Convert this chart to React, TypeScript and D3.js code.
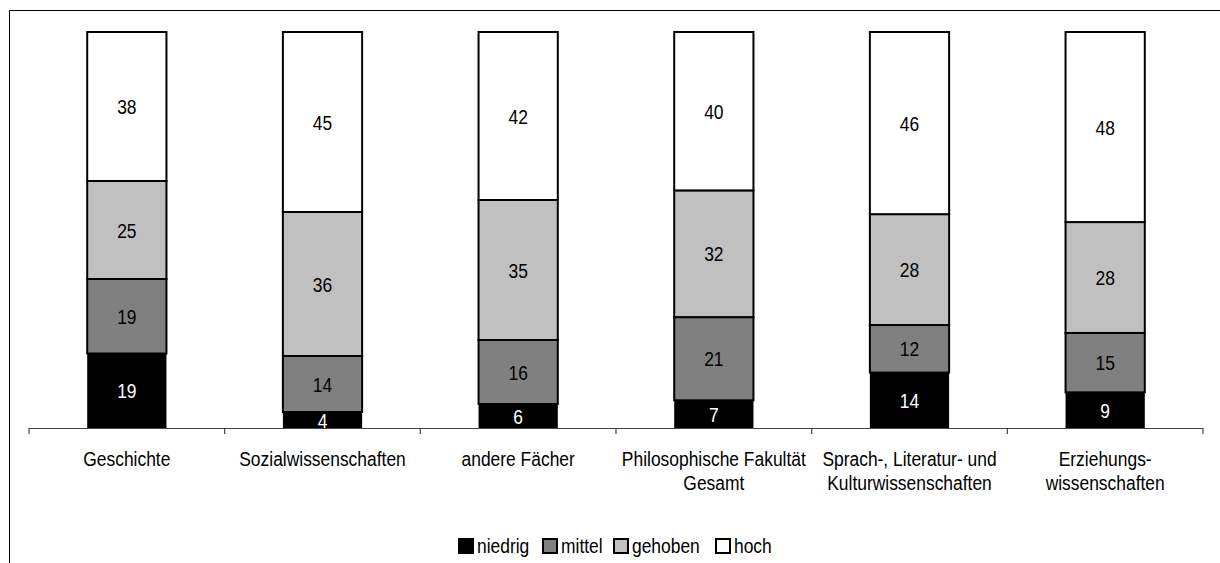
import * as d3 from 'd3'

const categories = [
  ['Geschichte'],
  ['Sozialwissenschaften'],
  ['andere Fächer'],
  ['Philosophische Fakultät', 'Gesamt'],
  ['Sprach-, Literatur- und', 'Kulturwissenschaften'],
  ['Erziehungs-', 'wissenschaften'],
]
const niedrig = [19, 4, 6, 7, 14, 9]
const mittel = [19, 14, 16, 21, 12, 15]
const gehoben = [25, 36, 35, 32, 28, 28]
const hoch = [38, 45, 42, 40, 46, 48]
const seriesNames = ['niedrig', 'mittel', 'gehoben', 'hoch']
const colors = ['#000000', '#808080', '#c0c0c0', '#ffffff']

const width = 1220
const height = 563
const font = '"Liberation Sans", Arial, sans-serif'
const fs = 21
const squeeze = 0.83

// narrow text: squeeze horizontally around the anchor point
function NText({ x, y, anchor = 'middle', fill = '#000', children }: any) {
  return (
    <text
      transform={`translate(${x},${y}) scale(${squeeze},1)`}
      textAnchor={anchor}
      fontSize={fs}
      fill={fill}
    >
      {children}
    </text>
  )
}

export default function App() {
  const left = 29
  const right = 1203
  const top = 32
  const bottom = 428

  const rows = categories.map((c, i) => ({
    key: i,
    niedrig: niedrig[i],
    mittel: mittel[i],
    gehoben: gehoben[i],
    hoch: hoch[i],
  }))
  const layers = d3
    .stack<any>()
    .keys(seriesNames)
    .offset(d3.stackOffsetExpand)(rows)

  const x = d3
    .scaleBand<number>()
    .domain(categories.map((_, i) => i))
    .range([left, right])
  const bw = x.bandwidth() * 0.405
  const y = d3.scaleLinear([0, 1], [bottom, top])

  const ticks = d3.range(categories.length + 1).map((i) => left + i * x.step())

  const legendX = [458, 542, 613, 715]

  return (
    <svg
      width={width}
      height={height}
      style={{ position: 'absolute', left: 0, top: 0, fontFamily: font }}
    >
      <rect x={0} y={0} width={width} height={height} fill="#fff" />
      <path d={`M9.5,${height}V10.5H${width}`} fill="none" stroke="#000" strokeWidth={1} />

      {layers.map((layer, li) => (
        <g key={li}>
          {layer.map((d, i) => {
            const cx = (x(i) ?? 0) + x.bandwidth() / 2
            const y0 = y(d[0])
            const y1 = y(d[1])
            return (
              <g key={i}>
                <rect
                  x={cx - bw / 2}
                  y={y1}
                  width={bw}
                  height={y0 - y1}
                  fill={colors[li]}
                  stroke="#000"
                  strokeWidth={li === 0 ? 0 : 2}
                />
                <NText x={cx} y={(y0 + y1) / 2 + 7.5} fill={li === 0 ? '#fff' : '#000'}>
                  {(d.data as any)[seriesNames[li]]}
                </NText>
              </g>
            )
          })}
        </g>
      ))}

      <g stroke="#444" strokeWidth={1.2}>
        <line x1={left} x2={right} y1={bottom + 0.5} y2={bottom + 0.5} />
        {ticks.map((t, i) => (
          <line key={i} x1={t} x2={t} y1={bottom} y2={bottom + 6} />
        ))}
      </g>

      {categories.map((lines, i) => {
        const cx = (x(i) ?? 0) + x.bandwidth() / 2
        return (
          <g key={i}>
            {lines.map((l, j) => (
              <NText key={j} x={cx} y={466 + j * 24}>
                {l}
              </NText>
            ))}
          </g>
        )
      })}

      {seriesNames.map((s, i) => (
        <g key={s}>
          <rect
            x={legendX[i] + 1}
            y={539}
            width={14}
            height={14}
            fill={colors[i]}
            stroke="#000"
            strokeWidth={2}
          />
          <NText x={legendX[i] + 19} y={553} anchor="start">
            {s}
          </NText>
        </g>
      ))}
    </svg>
  )
}
